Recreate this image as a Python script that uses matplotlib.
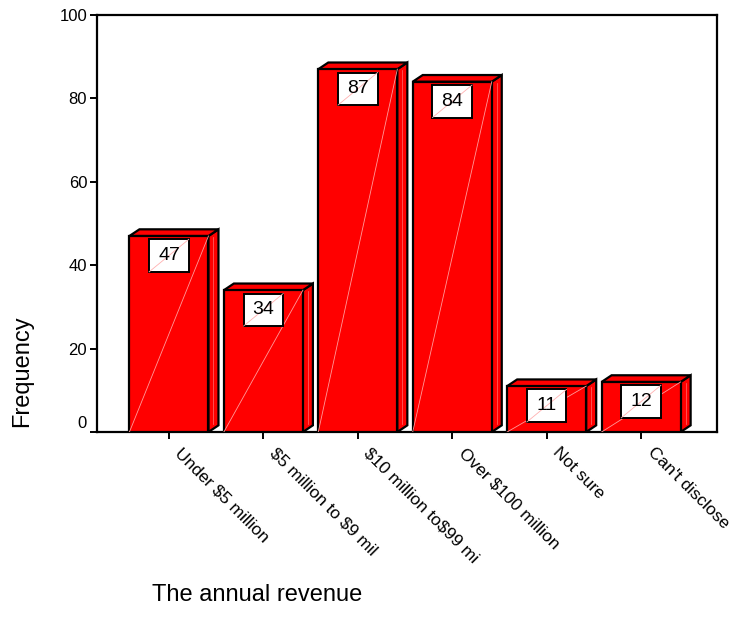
import matplotlib
matplotlib.use("Agg")
import matplotlib.pyplot as plt
from matplotlib.patches import Polygon, Rectangle
from matplotlib.transforms import ScaledTranslation

plt.rcParams["font.family"] = ["Liberation Sans", "DejaVu Sans"]

categories = ["Under \\$5 million", "\\$5 million to \\$9 mil", "\\$10 million to\\$99 mi",
              "Over \\$100 million", "Not sure", "Can't disclose"]
counts = [47, 34, 87, 84, 11, 12]
yticks = [0, 20, 40, 60, 80, 100]

RED = "#ff0000"
W = 0.837     # front face width (category units)
DX = 0.106    # depth offset, x
DY = 1.6      # depth offset, y

fig = plt.figure(figsize=(7.34, 6.24), dpi=100)
ax = fig.add_axes([0.132, 0.3077, 0.845, 0.6683])

xs = list(range(len(categories)))
ax.bar(xs, counts, width=W, color=RED, edgecolor="black", linewidth=1.6, zorder=3)

for x, v in zip(xs, counts):
    l, r = x - W / 2, x + W / 2
    side = Polygon([(r, 0), (r + DX, DY), (r + DX, v + DY), (r, v)],
                   closed=True, fc=RED, ec="black", lw=1.6, zorder=2)
    top = Polygon([(l, v), (l + DX, v + DY), (r + DX, v + DY), (r, v)],
                  closed=True, fc=RED, ec="black", lw=1.6, zorder=2)
    ax.add_patch(side)
    ax.add_patch(top)
    # faint highlight stripes of the original rendering
    ax.plot([l, r], [0, v], color="#ff9a9a", lw=0.6, zorder=4)
    ax.plot([r + DX * 0.5, r + DX * 0.5], [DY * 0.5 + 1, v + DY * 0.5 - 1],
            color="#ff7070", lw=0.5, zorder=4)
    # value label box
    bw, bh = 0.42, 7.8
    by = v - 0.8 - bh
    ax.add_patch(Rectangle((x - bw / 2, by), bw, bh, fc="white", ec="black",
                           lw=1.4, zorder=5))
    ax.plot([x - bw / 2, x + bw / 2], [by, by + bh], color="#ffb0b0", lw=0.6, zorder=5)
    ax.text(x, by + bh / 2, str(v), ha="center", va="center", fontsize=14, zorder=6)

ax.set_xlim(-0.763, 5.805)
ax.set_ylim(0, 100)
ax.set_yticks(yticks)
# the "0" label sits a little above its tick in the original
ax.set_yticklabels([""] + [str(t) for t in yticks[1:]])
ax.text(0, yticks[0], str(yticks[0]), ha="right", va="center", fontsize=12,
        transform=ax.get_yaxis_transform()
        + ScaledTranslation(-0.10, 0.08, fig.dpi_scale_trans))
ax.set_xticks(xs)
ax.set_xticklabels([])
shift = ScaledTranslation(0.14, -0.13, fig.dpi_scale_trans)
for x, lab in zip(xs, categories):
    ax.text(x, 0, lab, rotation=-45, ha="left", va="top", rotation_mode="anchor",
            fontsize=12.5, transform=ax.get_xaxis_transform() + shift)
ax.tick_params(axis="both", direction="out", length=5, width=1.4)
ax.tick_params(axis="y", labelsize=12, pad=2)
for s in ax.spines.values():
    s.set_linewidth(1.6)

fig.text(0.030, 0.405, "Frequency", rotation=90, ha="center", va="center", fontsize=17)
fig.text(0.207, 0.047, "The annual revenue", ha="left", va="center", fontsize=17)

fig.savefig("out.png", dpi=100)
